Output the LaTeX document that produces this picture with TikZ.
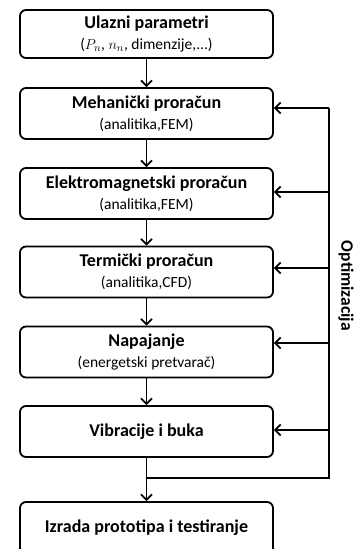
\documentclass[tikz,border=0pt]{standalone}
\usepackage{fontspec}
\setmainfont{Carlito}
\usetikzlibrary{arrows.meta,positioning}

\begin{document}
\begin{tikzpicture}[x=1pt, y=-1pt,
    stage/.style={draw, line width=1.8pt, rounded corners=6pt, minimum width=253pt, minimum height=51pt, align=center, inner sep=0pt, font=\fontsize{15.5}{21}\selectfont},
    title/.style={font=\bfseries\fontsize{18}{21}\selectfont},
    flow/.style={line width=1.8pt, -{Straight Barb[length=5.5pt, width=11pt, line width=1.8pt]}},
    back/.style={line width=1.8pt}]
  \useasboundingbox (0,0) rectangle (360,549);

  % stages of the design
  \node[stage, minimum height=48pt] (ulaz) at (146.5,34) {{\bfseries\fontsize{18}{21}\selectfont Ulazni parametri}\\($P_n$, $n_n$, dimenzije,...)};
  \node[stage] (meh) at (146.5,113.5) {{\bfseries\fontsize{18}{21}\selectfont Mehanički proračun}\\(analitika,FEM)};
  \node[stage] (em) at (146.5,193.5) {{\bfseries\fontsize{18}{21}\selectfont Elektromagnetski proračun}\\(analitika,FEM)};
  \node[stage] (term) at (146.5,272) {{\bfseries\fontsize{18}{21}\selectfont Termički proračun}\\(analitika,CFD)};
  \node[stage] (nap) at (146.5,352) {{\bfseries\fontsize{18}{21}\selectfont Napajanje}\\(energetski pretvarač)};
  \node[stage, title] (vib) at (146.5,431.5) {Vibracije i buka};
  \node[stage, title, minimum height=52pt] (izr) at (146.5,528) {Izrada prototipa i testiranje};

  \draw[flow] (ulaz) -- (meh);
  \draw[flow] (meh) -- (em);
  \draw[flow] (em) -- (term);
  \draw[flow] (term) -- (nap);
  \draw[flow] (nap) -- (vib);

  % optimisation loop
  \coordinate (spoj) at (146.5,478);
  \coordinate (dno) at (329,478);
  \coordinate (o1) at (329,108);
  \coordinate (o2) at (329,192);
  \coordinate (o3) at (329,268);
  \coordinate (o4) at (329,343);
  \coordinate (o5) at (329,430);
  \draw[back] (vib) -- (spoj) -- (dno) -- (o1);
  \draw[flow] (spoj) -- (izr);
  \draw[flow] (o1) -- (meh.east |- o1);
  \draw[flow] (o2) -- (em.east |- o2);
  \draw[flow] (o3) -- (term.east |- o3);
  \draw[flow] (o4) -- (nap.east |- o4);
  \draw[flow] (o5) -- (vib.east |- o5);
  \node[font=\bfseries\fontsize{17.5}{20}\selectfont, rotate=-90] (opt) at (346,286) {Optimizacija};
\end{tikzpicture}
\end{document}
